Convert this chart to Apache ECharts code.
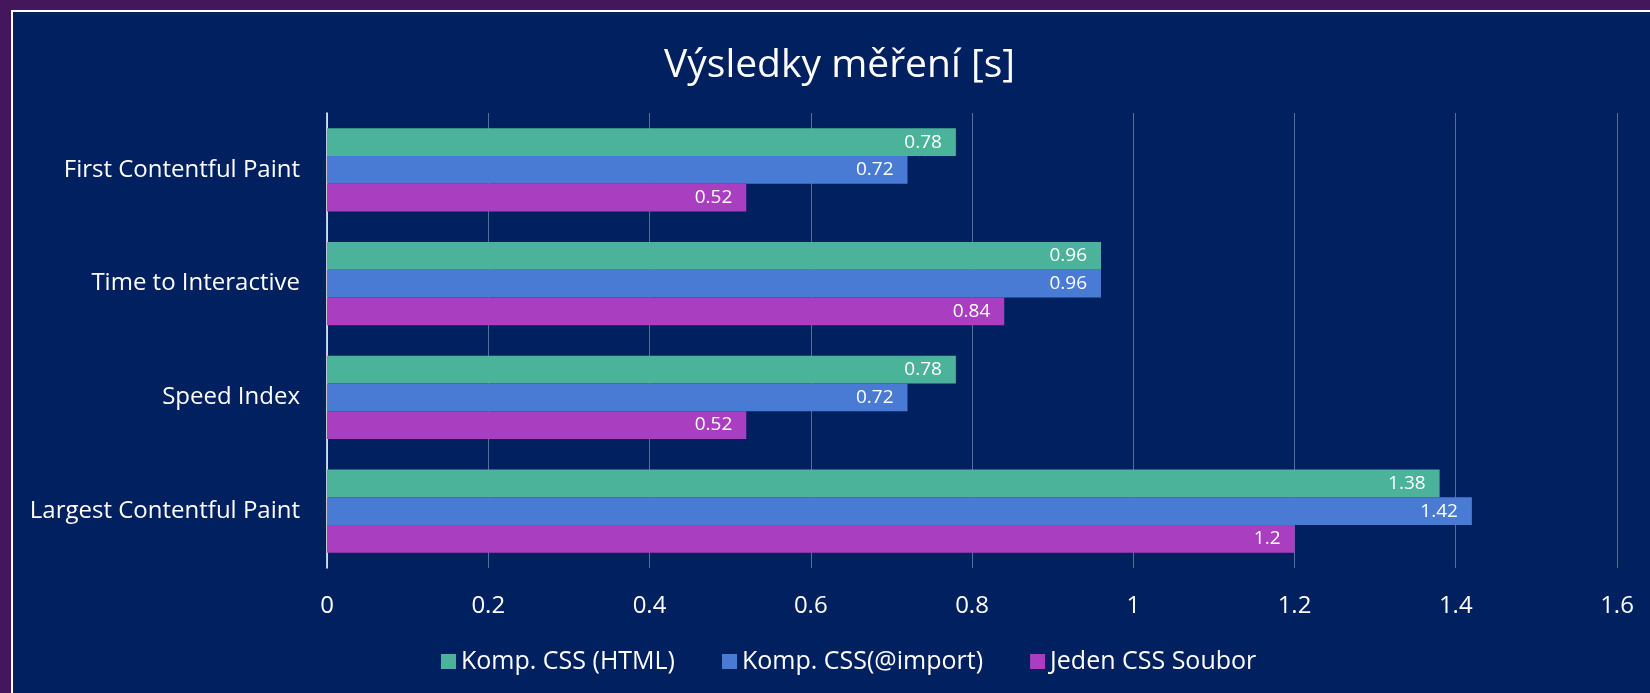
<!DOCTYPE html>
<html><head><meta charset="utf-8">
<script src="https://cdn.jsdelivr.net/npm/echarts@6/dist/echarts.min.js"></script>
<style>html,body{margin:0;padding:0;background:#44175c;}#c{width:1650px;height:693px;}</style>
</head><body><div id="c"></div>
<script>
const categories = ['First Contentful Paint','Time to Interactive','Speed Index','Largest Contentful Paint'];
const seriesNames = ['Komp. CSS (HTML)','Komp. CSS(@import)','Jeden CSS Soubor'];
const htmlValues = [0.78, 0.96, 0.78, 1.38];
const importValues = [0.72, 0.96, 0.72, 1.42];
const singleValues = [0.52, 0.84, 0.52, 1.2];
const colors = ['#4ab39a','#4a7bd4','#a93fc0'];
const font = 'Open Sans';
const chart = echarts.init(document.getElementById('c'));
function s(name, data, color){
  return {name, type:'bar', data, barGap:'0%', barCategoryGap:'27%',
    itemStyle:{color},
    label:{show:true, position:'insideRight', distance:14, color:'#fff', fontFamily:font, fontSize:19}};
}
chart.setOption({
  backgroundColor:'#44175c',
  graphic:[{type:'rect', z:-10, shape:{x:12,y:11,width:1660,height:700}, style:{fill:'#002060', stroke:'#ffffff', lineWidth:2}}],
  title:{text:'Výsledky měření [s]', left:659, top:41, textStyle:{color:'#fff', fontFamily:font, fontSize:39, fontWeight:'normal'}},
  legend:{bottom:14, left:436, itemWidth:15, itemHeight:15, itemGap:47, itemTextGap:5, icon:'rect',
    textStyle:{color:'#fff', fontFamily:font, fontSize:25}},
  grid:{left:327, right:33, top:113, bottom:125},
  xAxis:{type:'value', min:0, max:1.6, interval:0.2,
    axisLabel:{color:'#fff', fontFamily:font, fontSize:24, margin:26},
    axisLine:{show:false}, axisTick:{show:false},
    splitLine:{lineStyle:{color:'rgba(255,255,255,0.35)', width:1}}},
  yAxis:{type:'category', data:categories, inverse:true,
    axisLabel:{color:'#fff', fontFamily:font, fontSize:24, margin:27},
    axisLine:{lineStyle:{color:'#ffffff', width:1.5}}, axisTick:{show:false}},
  series:[s(seriesNames[0], htmlValues, colors[0]), s(seriesNames[1], importValues, colors[1]), s(seriesNames[2], singleValues, colors[2])]
});
</script></body></html>
